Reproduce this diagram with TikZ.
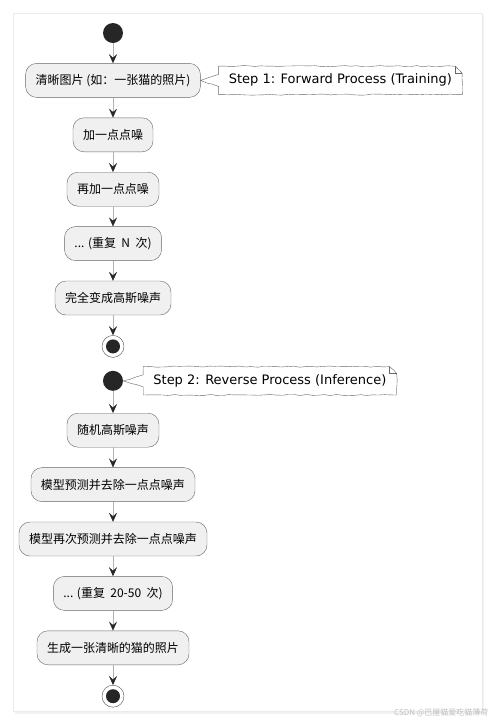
\documentclass[tikz,border=0pt]{standalone}
\usepackage{fontspec}
\setmainfont{DejaVu Sans}
\newfontfamily\cjk{Noto Sans CJK SC}
\usetikzlibrary{positioning,arrows.meta,decorations.pathmorphing,calc}
\tikzstyle{abox}=[rectangle, rounded corners=11pt, draw=black!60, fill=black!6, thin,
                  minimum height=34pt, inner xsep=10pt,
                  font=\cjk\fontsize{12pt}{14pt}\selectfont]
\tikzstyle{nbox}=[rectangle, fill=white, minimum height=28pt, inner xsep=10pt,
                  font=\fontsize{13pt}{15pt}\selectfont]
\tikzstyle{nline}=[draw=black!60, thin, decorate,
                   decoration={random steps, segment length=6pt, amplitude=0.6pt}]
\tikzstyle{startc}=[circle, fill=black!85, minimum size=20pt, inner sep=0pt]
\tikzstyle{endc}=[circle, draw=black!70, fill=white, minimum size=22pt, inner sep=0pt,
                  path picture={\fill[black!85] (path picture bounding box.center) circle (7pt);}]
\tikzstyle{flow}=[draw=black!30, thin, -{Stealth[length=9pt,width=8pt,inset=3.5pt,color=black!85]}]

\begin{document}
\begin{tikzpicture}[node distance=20pt]
\pgfmathsetseed{7}
\useasboundingbox (0,0) rectangle (495pt,-724pt);
% panel
\fill[black!5] (15pt,-15pt) rectangle (484pt,-714pt);
\filldraw[fill=white, draw=black!8] (13pt,-13pt) rectangle (482pt,-711pt);

% forward process
\node (START1) [startc] at (113pt,-33pt) {};
\node (CLEAN) [abox, below=of START1] {清晰图片 (如：一张猫的照片)};
\node (NOISE1) [abox, below=of CLEAN] {加一点点噪};
\node (NOISE2) [abox, below=of NOISE1] {再加一点点噪};
\node (NOISEN) [abox, below=of NOISE2] {... (重复\ \ N\ \ 次)};
\node (GAUSS) [abox, below=of NOISEN] {完全变成高斯噪声};
\node (END1) [endc, below=of GAUSS] {};

% reverse process
\node (START2) [startc, below=13pt of END1] {};
\node (RAND) [abox, below=22pt of START2] {随机高斯噪声};
\node (PRED1) [abox, below=of RAND] {模型预测并去除一点点噪声};
\node (PRED2) [abox, below=of PRED1] {模型再次预测并去除一点点噪声};
\node (PREDN) [abox, below=of PRED2] {... (重复\ \ 20-50\ \ 次)};
\node (CAT) [abox, below=of PREDN] {生成一张清晰的猫的照片};
\node (END2) [endc, below=of CAT] {};

% notes
\node (NOTE1) [nbox, right=18pt of CLEAN] {Step 1: Forward Process (Training)};
\node (NOTE2) [nbox, right=20pt of START2] {Step 2: Reverse Process (Inference)};
\foreach \n/\a in {NOTE1/CLEAN, NOTE2/START2}{
 \draw[nline] (\n.north west) -- ($(\n.north east)+(-7pt,0)$) -- ($(\n.north east)+(0,-7pt)$)
   -- (\n.south east) -- (\n.south west) -- ($(\n.west)+(0,-6pt)$) -- (\a.east)
   -- ($(\n.west)+(0,6pt)$) -- cycle;
 \draw[draw=black!60, thin] ($(\n.north east)+(-7pt,0)$) -- ++(0,-7pt) -- ++(7pt,0);
}

% arrows
\draw[flow] (START1) -- (CLEAN);
\draw[flow] (CLEAN) -- (NOISE1);
\draw[flow] (NOISE1) -- (NOISE2);
\draw[flow] (NOISE2) -- (NOISEN);
\draw[flow] (NOISEN) -- (GAUSS);
\draw[flow] (GAUSS) -- (END1);
\draw[flow] (START2) -- (RAND);
\draw[flow] (RAND) -- (PRED1);
\draw[flow] (PRED1) -- (PRED2);
\draw[flow] (PRED2) -- (PREDN);
\draw[flow] (PREDN) -- (CAT);
\draw[flow] (CAT) -- (END2);

\node (WM) [anchor=east, text=black!25, font=\cjk\fontsize{8pt}{9pt}\selectfont]
  at (492pt,-713pt) {CSDN @巴厘猫爱吃猫薄荷};
\end{tikzpicture}
\end{document}
